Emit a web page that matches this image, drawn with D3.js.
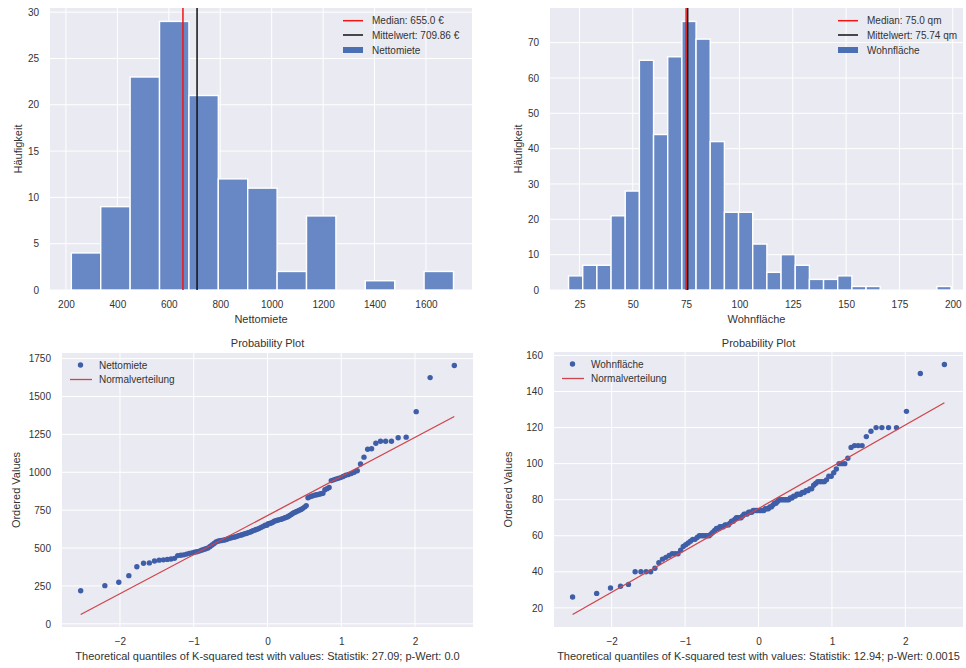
<!DOCTYPE html>
<html><head><meta charset="utf-8">
<script src="https://cdn.jsdelivr.net/npm/d3@7"></script>
<style>
body{margin:0;background:#fff}
text{font-family:"Liberation Sans",Arial,Helvetica,sans-serif}
</style>
</head><body>
<svg id="c" width="966" height="668"></svg>
<script>
// ---------------- DATA ----------------
// Histogram Nettomiete
const nettoRange = [221, 1707];
const nettoXLim = [138, 1779];
const nettoCounts = [4, 9, 23, 29, 21, 12, 11, 2, 8, 0, 1, 0, 2];
const nettoMedian = 655.0;
const nettoMean = 709.86;
const nettoLegend = ["Median: 655.0 €", "Mittelwert: 709.86 €", "Nettomiete"];
const nettoXTicks = [200, 400, 600, 800, 1000, 1200, 1400, 1600];
const nettoYTicks = [0, 5, 10, 15, 20, 25, 30];

// Histogram Wohnfläche
const wohnRange = [19.9, 199.2];
const wohnXLim = [11.2, 204.8];
const wohnCounts = [4, 7, 7, 21, 28, 65, 44, 66, 76, 71, 42, 22, 22, 13, 5, 10, 7, 3, 3, 4, 1, 1, 0, 0, 0, 0, 1];
const wohnMedian = 75.0;
const wohnMean = 75.74;
const wohnLegend = ["Median: 75.0 qm", "Mittelwert: 75.74 qm", "Wohnfläche"];
const wohnXTicks = [25, 50, 75, 100, 125, 150, 175, 200];
const wohnYTicks = [0, 10, 20, 30, 40, 50, 60, 70];

// Probability plot Nettomiete (ordered values)
const nettoOrdered = [218,252,274,318,377,400,402,415,420,422,425,428,432,
 450,452,455,460,465,468,472,476,480,485,490,495,500,510,520,530,540,545,548,550,552,555,558,
 564,566,569,572,575,578,582,585,588,592,595,598,602,605,610,615,618,622,625,630,635,640,645,650,650,660,662,665,670,
 678,680,683,686,689,692,696,700,704,708,715,722,730,735,740,745,750,755,762,770,780,
 832,838,842,846,850,852,855,858,862,885,892,900,
 945,950,955,960,965,972,980,985,992,1000,1010,
 1055,1100,
 1152,1155,1192,1205,1205,1205,1228,1232,
 1400,1625,1705];
const nettoFit = [258, 714.5];  // slope, intercept
const nettoQQTicksY = [0, 250, 500, 750, 1000, 1250, 1500, 1750];
const nettoQQLabel = "Theoretical quantiles of K-squared test with values: Statistik: 27.09; p-Wert: 0.0";
const nettoQQLegend = ["Nettomiete", "Normalverteilung"];

// Probability plot Wohnfläche (ordered values)
const wohnOrdered = [26,28,31,32,33,40,40,40,40,42,
 45,47,48,49,50,50,50,52,54,55,
 56,57,58,58,59,60,60,60,60,60,
 60,61,62,63,64,64,65,65,65,66,
 66,66,67,68,68,69,70,70,70,70,
 71,72,72,72,73,73,73,74,74,74,
 74,74,74,74,74,75,75,75,76,76,
 77,78,78,79,80,80,80,80,80,80,
 80,81,81,82,82,83,83,83,84,84,
 85,85,86,86,88,89,90,90,90,90,
 91,93,93,95,97,100,100,100,103,109,
 110,110,110,115,118,120,120,120,120,129,
 150,155];
const wohnFit = [23.2, 75.05];
const wohnQQTicksY = [20, 40, 60, 80, 100, 120, 140, 160];
const wohnQQLabel = "Theoretical quantiles of K-squared test with values: Statistik: 12.94; p-Wert: 0.0015";
const wohnQQLegend = ["Wohnfläche", "Normalverteilung"];

const qqXTicks = [-2, -1, 0, 1, 2];
const qqTitle = "Probability Plot";

// ---------------- STYLE ----------------
const BG = "#EAEAF2", TXT = "#333", BAR = "#6788C4", BARLEG = "#4A6FB3";
const DOT = "#3F5EA8", FITC = "#D0454C", MEDC = "#f31414", MEANC = "#111";
const svg = d3.select("#c");

// ---------------- HELPERS ----------------
function invNorm(p) {
  const a=[-3.969683028665376e+01,2.209460984245205e+02,-2.759285104469687e+02,1.383577518672690e+02,-3.066479806614716e+01,2.506628277459239e+00];
  const b=[-5.447609879822406e+01,1.615858368580409e+02,-1.556989798598866e+02,6.680131188771972e+01,-1.328068155288572e+01];
  const c=[-7.784894002430293e-03,-3.223964580411365e-01,-2.400758277161838e+00,-2.549732539343734e+00,4.374664141464968e+00,2.938163982698783e+00];
  const d=[7.784695709041462e-03,3.224671290700398e-01,2.445134137142996e+00,3.754408661907416e+00];
  const pl=0.02425, ph=1-pl; let q,r;
  if (p<pl){ q=Math.sqrt(-2*Math.log(p)); return (((((c[0]*q+c[1])*q+c[2])*q+c[3])*q+c[4])*q+c[5])/((((d[0]*q+d[1])*q+d[2])*q+d[3])*q+1); }
  if (p<=ph){ q=p-0.5; r=q*q; return (((((a[0]*r+a[1])*r+a[2])*r+a[3])*r+a[4])*r+a[5])*q/(((((b[0]*r+b[1])*r+b[2])*r+b[3])*r+b[4])*r+1); }
  q=Math.sqrt(-2*Math.log(1-p)); return -(((((c[0]*q+c[1])*q+c[2])*q+c[3])*q+c[4])*q+c[5])/((((d[0]*q+d[1])*q+d[2])*q+d[3])*q+1);
}
function theoretical(n) { // Filliben order statistic medians
  const m = new Array(n);
  m[n-1] = Math.pow(0.5, 1/n); m[0] = 1 - m[n-1];
  for (let i=1;i<n-1;i++) m[i] = (i+1-0.3175)/(n+0.365);
  return m.map(invNorm);
}
function pad(ext, f=0.05){ const r=ext[1]-ext[0]; return [ext[0]-r*f, ext[1]+r*f]; }

function frame(box, x, y, xTicks, yTicks, xFmt, yFmt) {
  const g = svg.append("g");
  g.append("rect").attr("x",box.l).attr("y",box.t).attr("width",box.r-box.l).attr("height",box.b-box.t).attr("fill",BG);
  g.selectAll(null).data(xTicks).join("line")
    .attr("x1",d=>x(d)).attr("x2",d=>x(d)).attr("y1",box.t).attr("y2",box.b)
    .attr("stroke","#fff").attr("stroke-width",1);
  g.selectAll(null).data(yTicks).join("line")
    .attr("y1",d=>y(d)).attr("y2",d=>y(d)).attr("x1",box.l).attr("x2",box.r)
    .attr("stroke","#fff").attr("stroke-width",1);
  const ax = svg.append("g").attr("transform",`translate(0,${box.b})`)
    .call(d3.axisBottom(x).tickValues(xTicks).tickSize(0).tickPadding(11).tickFormat(xFmt));
  const ay = svg.append("g").attr("transform",`translate(${box.l},0)`)
    .call(d3.axisLeft(y).tickValues(yTicks).tickSize(0).tickPadding(11).tickFormat(yFmt));
  [ax, ay].forEach(a => {
    a.select(".domain").remove();
    a.selectAll("text").attr("fill",TXT).style("font-size","10px").style("font-family",'"Liberation Sans",Arial,sans-serif');
  });
  return g;
}
function label(txt, x, y, rot, size=11) {
  svg.append("text").attr("transform",`translate(${x},${y})${rot?" rotate(-90)":""}`)
    .attr("text-anchor","middle").attr("dominant-baseline","central")
    .attr("fill",TXT).style("font-size",size+"px").text(txt);
}

function histogram(box, range, xlim, counts, xTicks, yTicks, median, mean, legend, xlabel, legX) {
  const w = (range[1]-range[0])/counts.length;
  const bins = counts.map((c,i)=>({x0:range[0]+i*w, x1:range[0]+(i+1)*w, c}));
  const x = d3.scaleLinear().domain(xlim).range([box.l, box.r]);
  const y = d3.scaleLinear().domain([0, d3.max(counts)*1.05]).range([box.b, box.t]);
  const g = frame(box, x, y, xTicks, yTicks, d3.format("d"), d3.format("d"));
  g.selectAll(null).data(bins.filter(b=>b.c>0)).join("rect")
    .attr("x",d=>x(d.x0)).attr("width",d=>x(d.x1)-x(d.x0))
    .attr("y",d=>y(d.c)).attr("height",d=>y(0)-y(d.c))
    .attr("fill",BAR).attr("stroke","#fff").attr("stroke-width",1.4);
  g.append("line").attr("x1",x(median)).attr("x2",x(median)).attr("y1",box.t).attr("y2",box.b)
    .attr("stroke",MEDC).attr("stroke-width",1.5);
  g.append("line").attr("x1",x(mean)).attr("x2",x(mean)).attr("y1",box.t).attr("y2",box.b)
    .attr("stroke",MEANC).attr("stroke-width",1.5);
  // legend
  const rows = [box.t+12.7, box.t+27, box.t+42];
  const lg = svg.append("g");
  lg.append("line").attr("x1",legX).attr("x2",legX+20).attr("y1",rows[0]).attr("y2",rows[0]).attr("stroke",MEDC).attr("stroke-width",1.5);
  lg.append("line").attr("x1",legX).attr("x2",legX+20).attr("y1",rows[1]).attr("y2",rows[1]).attr("stroke",MEANC).attr("stroke-width",1.5);
  lg.append("rect").attr("x",legX).attr("width",20).attr("y",rows[2]-3).attr("height",6).attr("fill",BARLEG);
  legend.forEach((t,i)=>lg.append("text").attr("x",legX+29).attr("y",rows[i]).attr("dominant-baseline","central")
    .attr("fill",TXT).style("font-size","10px").text(t));
  label(xlabel, (box.l+box.r)/2, 318.5, false);
  label("Häufigkeit", box.l-32, (box.t+box.b)/2, true);
}

function probplot(box, ordered, fit, yTicks, xlabel, legend) {
  const osm = theoretical(ordered.length);
  const pts = osm.map((q,i)=>({q, v: ordered[i]}));
  const zExt = d3.extent(osm);
  const lineEnds = zExt.map(q=>({q, v: fit[0]*q + fit[1]}));
  const x = d3.scaleLinear().domain(pad(zExt)).range([box.l, box.r]);
  const y = d3.scaleLinear().domain(pad(d3.extent(ordered.concat(lineEnds.map(d=>d.v))))).range([box.b, box.t]);
  const g = frame(box, x, y, qqXTicks, yTicks, d3.format("d"), d3.format("d"));
  g.selectAll(null).data(pts).join("circle")
    .attr("cx",d=>x(d.q)).attr("cy",d=>y(d.v)).attr("r",2.7).attr("fill",DOT);
  g.append("path").datum(lineEnds)
    .attr("d", d3.line().x(d=>x(d.q)).y(d=>y(d.v)))
    .attr("stroke",FITC).attr("stroke-width",1.3).attr("fill","none");
  // legend
  const lg = svg.append("g");
  lg.append("circle").attr("cx",box.l+18.5).attr("cy",box.t+12).attr("r",2.7).attr("fill",DOT);
  lg.append("line").attr("x1",box.l+8).attr("x2",box.l+30).attr("y1",box.t+26.5).attr("y2",box.t+26.5).attr("stroke",FITC).attr("stroke-width",1.3);
  legend.forEach((t,i)=>lg.append("text").attr("x",box.l+37).attr("y",box.t+12+i*14.5).attr("dominant-baseline","central")
    .attr("fill",TXT).style("font-size","10px").text(t));
  label(qqTitle, (box.l+box.r)/2, 342.7, false);
  label(xlabel, (box.l+box.r)/2, 655.5, false);
  label("Ordered Values", box.l-46, (box.t+box.b)/2, true);
}

// ---------------- DRAW ----------------
histogram({l:50,r:472,t:8,b:290}, nettoRange, nettoXLim, nettoCounts, nettoXTicks, nettoYTicks,
  nettoMedian, nettoMean, nettoLegend, "Nettomiete", 343);
histogram({l:550,r:963,t:8,b:290}, wohnRange, wohnXLim, wohnCounts, wohnXTicks, wohnYTicks,
  wohnMedian, wohnMean, wohnLegend, "Wohnfläche", 838);
probplot({l:62,r:473,t:353,b:627}, nettoOrdered, nettoFit, nettoQQTicksY, nettoQQLabel, nettoQQLegend);
probplot({l:554,r:963,t:352,b:627}, wohnOrdered, wohnFit, wohnQQTicksY, wohnQQLabel, wohnQQLegend);
</script>
</body></html>
